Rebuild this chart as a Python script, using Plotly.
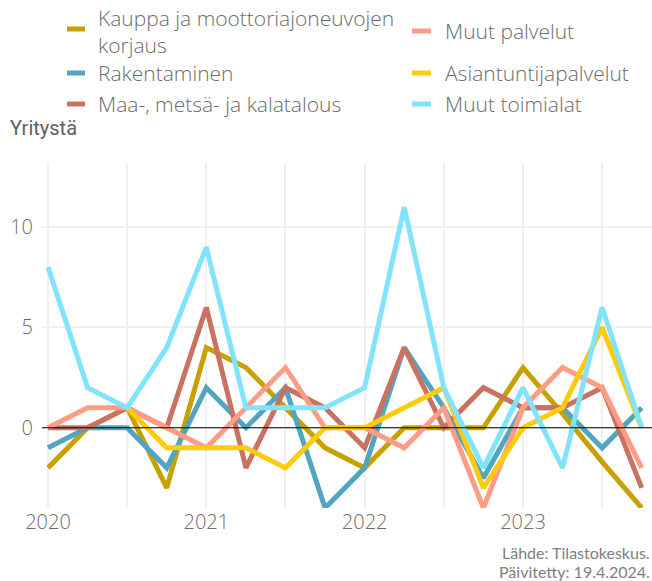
import plotly.graph_objects as go

# ---- data ----
quarters = [2020 + i * 0.25 for i in range(16)]
year_ticks = [2020, 2021, 2022, 2023]
year_labels = ["2020", "2021", "2022", "2023"]
y_ticks = [0, 5, 10]

kauppa = [-2, 0, 1, -3, 4, 3, 1, -1, -2, 0, 0, 0, 3, 0.7, -1.7, -4]
rakentaminen = [-1, 0, 0, -2, 2, 0, 2, -4, -2, 4, 1, -2.5, 1, 1, -1, 1]
maa = [0, 0, 1, 0, 6, -2, 2, 1, -1, 4, 0, 2, 1, 1, 2, -3]
muut_palvelut = [0, 1, 1, 0, -1, 1, 3, 0, 0, -1, 1, -4, 1, 3, 2, -2]
asiantuntija = [None, None, 1, -1, -1, -1, -2, 0, 0, 1, 2, -3, 0, 1, 5, 0]
muut_toimialat = [8, 2, 1, 4, 9, 1, 1, 1, 2, 11, 2, -2, 2, -2, 6, 0]

names = ["Kauppa ja moottoriajoneuvojen korjaus", "Rakentaminen",
         "Maa-, metsä- ja kalatalous", "Muut palvelut",
         "Asiantuntijapalvelut", "Muut toimialat"]
legend_labels = ["Kauppa ja moottoriajoneuvojen<br>korjaus", "Rakentaminen",
                 "Maa-, metsä- ja kalatalous", "Muut palvelut",
                 "Asiantuntijapalvelut", "Muut toimialat"]
series = [kauppa, rakentaminen, maa, muut_palvelut, asiantuntija, muut_toimialat]
colors = ["#C8A000", "#52A5BE", "#C87262", "#FF9C85", "#FFCB0A", "#82E3FF"]

# ---- layout geometry ----
WIDTH, HEIGHT = 652, 581
L, R, T, B = 42, 0, 163, 73
PW = WIDTH - L - R
PH = HEIGHT - T - B


def px(x):
    return (x - L) / PW


def py(y):
    return (HEIGHT - B - y) / PH


FONT = "'Open Sans', Lato, sans-serif"
GREY = "#6C6C6C"

fig = go.Figure()
for name, ys, col in zip(names, series, colors):
    fig.add_trace(go.Scatter(
        x=quarters, y=ys, mode="lines", name=name,
        line=dict(color=col, width=5), showlegend=False,
        connectgaps=False,
    ))

shapes = []
annotations = []

# zero line above traces
shapes.append(dict(type="line", xref="paper", yref="y", x0=0, x1=1, y0=0, y1=0,
                   line=dict(color="black", width=1.2), layer="above"))

# manual legend: (swatch x0, swatch x1, text x, swatch y, text centre y)
legend_pos = [
    (67, 85, 98, 29, 31),
    (67, 85, 98, 73, 73),
    (67, 85, 98, 104, 104),
    (412, 431, 445, 31, 31),
    (412, 431, 445, 73, 73),
    (412, 431, 445, 104, 104),
]
for label, col, (sx0, sx1, tx, sy, ty) in zip(legend_labels, colors, legend_pos):
    shapes.append(dict(type="line", xref="paper", yref="paper",
                       x0=px(sx0), x1=px(sx1), y0=py(sy), y1=py(sy),
                       line=dict(color=col, width=5)))
    annotations.append(dict(text=label, xref="paper", yref="paper",
                            x=px(tx - 2), y=py(ty),
                            xanchor="left", yanchor="middle",
                            showarrow=False, align="left",
                            font=dict(family=FONT, size=21, weight=300, color=GREY)))

annotations.append(dict(text="Yritystä", xref="paper", yref="paper",
                        x=px(8), y=py(128), xanchor="left", yanchor="middle",
                        showarrow=False,
                        font=dict(family="Roboto, sans-serif", size=20, color="#606060")))
annotations.append(dict(text="Lähde: Tilastokeskus.", xref="paper", yref="paper",
                        x=px(652), y=py(552), xanchor="right", yanchor="middle",
                        showarrow=False,
                        font=dict(family="Lato, sans-serif", size=16, color="#808080")))
annotations.append(dict(text="Päivitetty: 19.4.2024.", xref="paper", yref="paper",
                        x=px(652), y=py(571), xanchor="right", yanchor="middle",
                        showarrow=False,
                        font=dict(family="Lato, sans-serif", size=16, color="#808080")))

fig.update_layout(
    width=WIDTH, height=HEIGHT,
    margin=dict(l=L, r=R, t=T, b=B),
    paper_bgcolor="white", plot_bgcolor="white",
    shapes=shapes, annotations=annotations,
    showlegend=False,
    font=dict(family=FONT, color=GREY),
)
fig.update_xaxes(
    range=[2019.962, 2023.815],
    tickvals=year_ticks, ticktext=year_labels,
    showgrid=True, gridcolor="#F0F0F0", gridwidth=2,
    minor=dict(dtick=0.5, tick0=2020, showgrid=True, gridcolor="#F0F0F0", gridwidth=2),
    zeroline=False, showline=False, ticks="",
    tickfont=dict(family=FONT, size=20, weight=300, color=GREY),
)
fig.update_yaxes(
    range=[-4.0, 13.2],
    tickvals=y_ticks,
    showgrid=True, gridcolor="#F0F0F0", gridwidth=2,
    zeroline=False, showline=False, ticks="",
    ticklabelstandoff=8,
    tickfont=dict(family=FONT, size=20, weight=300, color=GREY),
)

fig.write_html("out.html",
               config={"displayModeBar": False},
               post_script="document.body.style.margin='0px';document.body.style.padding='0px';")
